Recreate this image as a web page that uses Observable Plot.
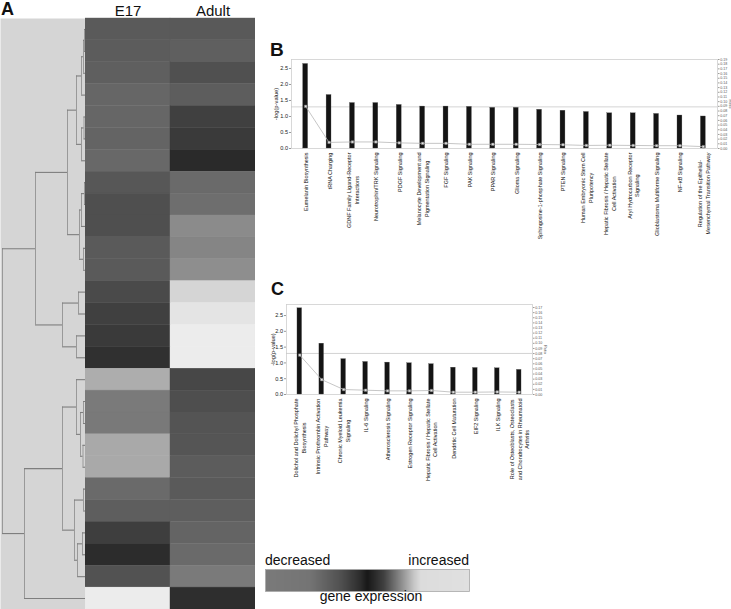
<!DOCTYPE html>
<html><head><meta charset="utf-8">
<script src="https://cdn.jsdelivr.net/npm/d3@7"></script>
<script src="https://cdn.jsdelivr.net/npm/@observablehq/plot@0.6"></script>
<style>
body{margin:0;background:#fff;font-family:"Liberation Sans",Arial,sans-serif;}
#wrap{position:relative;width:731px;height:609px;overflow:hidden;background:#fff;}
.t{position:absolute;white-space:nowrap;color:#111;}
.pl{font-weight:bold;font-size:18px;line-height:18px;}
.lg{font-size:14px;line-height:14px;}
</style></head><body><div id="wrap"></div>
<script>
// ---------- Panel A data ----------
const columns = ["E17", "Adult"];
const rows = d3.range(1, 28);
// relative expression (-1 decreased ... 0 ... +1 increased)
const e17 =   [-0.65,-0.67,-0.70,-0.78,-0.78,-0.76,-0.80,-0.62,-0.54,-0.54,-0.65,-0.65,-0.49,-0.39,-0.33,-0.22,0.70,-0.98,-0.97,0.68,0.68,-0.82,-0.69,-0.37,-0.18,-0.57,1.00];
const adult = [-0.64,-0.70,-0.55,-0.68,-0.39,-0.33,-0.16,-0.82,-0.86,0.54,0.51,0.55,0.89,0.96,1.00,1.00,-0.46,-0.53,-0.59,-0.60,-0.67,-0.65,-0.69,-0.76,-0.82,-0.98,-0.20];
// dendrogram: [merge height, left, right], leaves = row numbers
const tree = [83,
  [50,
    [18,
      [9, [4, [2, [1, 1, 2], 3], 4], [4, [1.5, 5, 6], 7]],
      [6, [4, [1, 8, 9], 10], [2, 11, 12]]],
    [23, [7, 13, 14], [9, 15, 16]]],
  [61,
    [23,
      [9, 17, [5, [2, 18, 19], [2.5, 20, 21]]],
      [11, [2, 22, 23], [8, [3, 24, 25], 26]]],
    27]];
const legendStops = [-1, -0.56, -0.26, -0.06, 0, 0.16, 0.32, 0.46, 0.52, 1];
const legendGrays = ["#7a7a7a","#747474","#505050","#2a2a2a","#181818","#404040","#888888","#c8c8c8","#dcdcdc","#e0e0e0"];

// ---------- Panel B data ----------
const bNames = [
 "Eumelanin Biosynthesis",
 "tRNA Charging",
 "GDNF Family Ligand-Receptor\nInteractions",
 "Neurotrophin/TRK Signaling",
 "PDGF Signaling",
 "Melanocyte Development and\nPigmentation Signaling",
 "FGF Signaling",
 "PAK Signaling",
 "PPAR Signaling",
 "Glioma Signaling",
 "Sphingosine-1-phosphate Signaling",
 "PTEN Signaling",
 "Human Embryonic Stem Cell\nPluripotency",
 "Hepatic Fibrosis / Hepatic Stellate\nCell Activation",
 "Aryl Hydrocarbon Receptor\nSignaling",
 "Glioblastoma Multiforme Signaling",
 "NF-κB Signaling",
 "Regulation of the Epithelial-\nMesenchymal Transition Pathway"];
const bLogP = [2.64,1.67,1.42,1.42,1.36,1.31,1.31,1.30,1.27,1.27,1.21,1.18,1.14,1.10,1.10,1.08,1.03,1.00];
const bRatio = [0.090,0.013,0.014,0.014,0.012,0.011,0.011,0.009,0.009,0.009,0.0085,0.008,0.0065,0.007,0.0065,0.006,0.006,0.004];
const bRatioTicks = d3.range(0, 20).map(i => i / 100);

// ---------- Panel C data ----------
const cNames = [
 "Dolichol and Dolichyl Phosphate\nBiosynthesis",
 "Intrinsic Prothrombin Activation\nPathway",
 "Chronic Myeloid Leukemia\nSignaling",
 "IL-6 Signaling",
 "Atherosclerosis Signaling",
 "Estrogen Receptor Signaling",
 "Hepatic Fibrosis / Hepatic Stellate\nCell Activation",
 "Dendritic Cell Maturation",
 "EIF2 Signaling",
 "ILK Signaling",
 "Role of Osteoblasts, Osteoclasts\nand Chondrocytes in Rheumatoid\nArthritis"];
const cLogP = [2.73,1.61,1.12,1.03,1.01,0.99,0.96,0.85,0.84,0.83,0.78];
const cRatio = [0.077,0.029,0.0097,0.0084,0.0071,0.0071,0.0078,0.0045,0.0045,0.005,0.0045];
const cRatioTicks = d3.range(0, 18).map(i => i / 100);
const logTicks = [0, 0.5, 1.0, 1.5, 2.0, 2.5];
const threshold = 1.3;

// ---------- helpers ----------
const FONT = "Liberation Sans, Arial, sans-serif";
const W = document.getElementById("wrap");
function place(el, left, top) { el.style.position = "absolute"; el.style.left = left + "px"; el.style.top = top + "px"; W.appendChild(el); return el; }
function txt(s, cls, left, top, extra) { const d = document.createElement("div"); d.className = "t " + cls; d.textContent = s; if (extra) Object.assign(d.style, extra); return place(d, left, top); }
const ctx = document.createElement("canvas").getContext("2d");
function textW(s, fs) { ctx.font = fs + "px 'Liberation Sans'"; return ctx.measureText(s).width; }

// ---------- Panel A: dendrogram ----------
const segH = [], segV = [];
function lay(n) {
  if (typeof n === "number") return {y: n, h: 0};
  const [h, a, b] = n; const A = lay(a), B = lay(b);
  segH.push({x1: h, x2: A.h, y: A.y}, {x1: h, x2: B.h, y: B.y});
  segV.push({x: h, y1: A.y, y2: B.y});
  return {y: (A.y + B.y) / 2, h};
}
lay(tree);
const dendro = Plot.plot({
  width: 85, height: 609, marginLeft: 0, marginRight: 0, marginTop: 18, marginBottom: 0,
  style: {background: "transparent", fontFamily: FONT},
  x: {domain: [85, 0], axis: null},
  y: {domain: [0.5, 27.5], reverse: true, axis: null},
  marks: [
    Plot.frame({fill: "#d5d5d5", stroke: null}),
    Plot.ruleX(segV, {x: "x", y1: "y1", y2: "y2", stroke: "#999", strokeWidth: 1}),
    Plot.ruleY(segH, {x1: "x1", x2: "x2", y: "y", stroke: "#7e7e7e", strokeWidth: 1.1})
  ]
});
place(dendro, 0, 0);

// ---------- Panel A: heatmap ----------
const cells = rows.flatMap((r, i) => [{col: "E17", row: r, v: e17[i]}, {col: "Adult", row: r, v: adult[i]}]);
const heat = Plot.plot({
  width: 170, height: 609, marginLeft: 0, marginRight: 0, marginTop: 18, marginBottom: 0,
  style: {background: "transparent", fontFamily: FONT},
  x: {domain: columns, padding: 0, round: false},
  y: {domain: rows, padding: 0, round: false, axis: null},
  color: {type: "linear", domain: [-1, 0, 1], range: ["#7c7c7c", "#1a1a1a", "#ececec"]},
  marks: [
    Plot.cell(cells, {x: "col", y: "row", fill: "v", stroke: "v", strokeWidth: 0.4}),
    Plot.axisX({anchor: "top", tickSize: 0, tickPadding: 3, fontSize: 15, label: null, fill: "#111"})
  ]
});
place(heat, 85, 0);

// ---------- Panels B & C ----------
function pathwayChart(names, logp, ratio, ratioTicks, o) {
  const data = names.map((n, i) => ({name: n, v: logp[i], r: ratio[i]}));
  const k = o.k;
  const labelMarks = data.map(d => {
    const lines = d.name.split("\n");
    const mw = d3.max(lines, s => textW(s, o.fs));
    return Plot.text([d], {x: "name", text: "name", frameAnchor: "bottom", rotate: -90,
      textAnchor: "middle", lineAnchor: "middle", lineHeight: o.lh, fontSize: o.fs,
      dy: 4 + mw / 2, fill: "#111"});
  });
  return Plot.plot({
    width: o.width, height: o.height,
    marginLeft: o.ml, marginRight: o.mr, marginTop: o.mt, marginBottom: o.mb,
    style: {background: "transparent", fontFamily: FONT},
    x: {domain: names, paddingInner: 0.79, paddingOuter: 0.5, round: false, axis: null},
    y: {domain: [0, o.ymax], axis: null},
    marks: [
      Plot.frame({stroke: "#cfcfcf", strokeWidth: 0.8}),
      Plot.ruleY([threshold], {stroke: "#c8c8c8", strokeWidth: 0.8}),
      Plot.barY(data, {x: "name", y: "v", fill: "#141414", stroke: "#555", strokeWidth: 0.3}),
      Plot.line(data, {x: "name", y: d => d.r * k, stroke: "#b8b8b8", strokeWidth: 0.8}),
      Plot.dot(data, {x: "name", y: d => d.r * k, symbol: "square", r: 1.4, fill: "#e4e4e4", stroke: "#777", strokeWidth: 0.5}),
      Plot.axisY(logTicks, {anchor: "left", tickFormat: d3.format(".1f"), fontSize: 5.6, tickSize: 2, tickPadding: 1.5, label: null, fill: "#222", stroke: "#999"}),
      Plot.axisY(ratioTicks.map(r => r * k), {anchor: "right", tickFormat: d => (d / k).toFixed(2), fontSize: 3.6, tickSize: 1.5, tickPadding: 1.2, label: null, fill: "#555", stroke: "#999"}),
      Plot.text(["-log(p-value)"], {frameAnchor: "left", textAnchor: "middle", dx: o.ylabDx, rotate: -90, fontSize: 5.8, fill: "#222", text: d => d}),
      Plot.text(["Ratio"], {frameAnchor: "right", textAnchor: "middle", dx: 12.5, rotate: 90, fontSize: 3.8, fill: "#555", text: d => d}),
      ...labelMarks
    ]
  });
}
const yMaxB = 2.78;
const chartB = pathwayChart(bNames, bLogP, bRatio, bRatioTicks,
  {width: 461, height: 208, ml: 21, mr: 14, mt: 19, mb: 100, ymax: yMaxB, k: yMaxB / 0.19, fs: 5.5, lh: 1.4, ylabDx: -15.5});
place(chartB, 270, 40);
const yMaxC = 2.85;
const chartC = pathwayChart(cNames, cLogP, cRatio, cRatioTicks,
  {width: 278, height: 209, ml: 16, mr: 16, mt: 19, mb: 100, ymax: yMaxC, k: 16.2, fs: 5.5, lh: 1.3, ylabDx: -13.5});
place(chartC, 270, 285);

// ---------- legend ----------
const legend = Plot.plot({
  width: 206, height: 24, margin: 1,
  style: {background: "transparent"},
  x: {domain: [-1, 1], axis: null},
  y: {domain: [0, 1], axis: null},
  color: {type: "linear", domain: legendStops, range: legendGrays},
  marks: [
    Plot.raster({fill: (x, y) => x, x1: -1, x2: 1, y1: 0, y2: 1}),
    Plot.frame({stroke: "#a8a8a8", strokeWidth: 0.8})
  ]
});
place(legend, 264, 568);

// ---------- text ----------
txt("A", "pl", 1, 0);
txt("B", "pl", 270, 41, {fontSize: "19px"});
txt("C", "pl", 271, 280);
txt("decreased", "lg", 265, 553);
const inc = txt("increased", "lg", 0, 553);
inc.style.left = (469 - textW("increased", 14)) + "px";
txt("gene expression", "lg", 371 - textW("gene expression", 14) / 2, 589);
</script></body></html>
